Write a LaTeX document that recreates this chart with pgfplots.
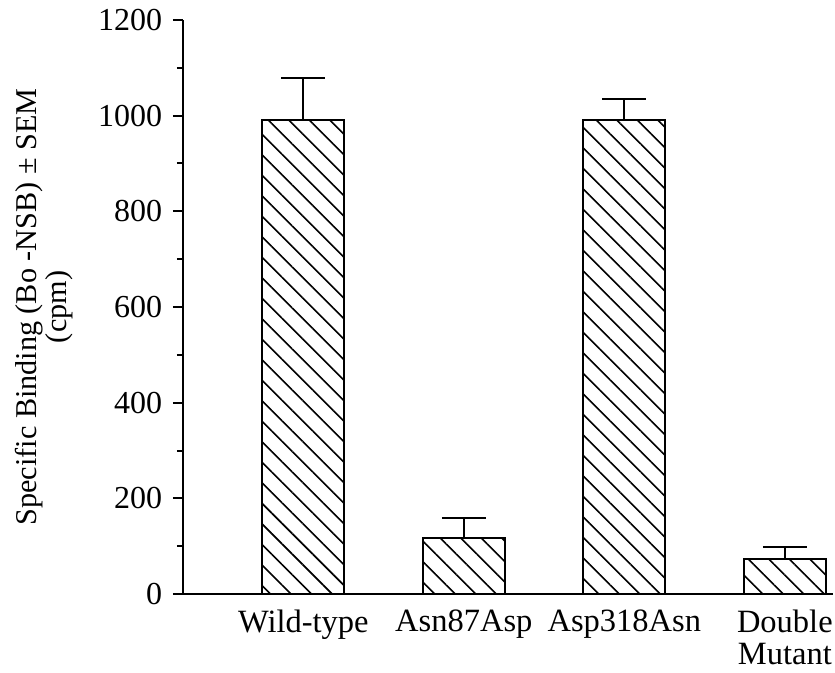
\documentclass[border=0pt]{standalone}
\usepackage{fontspec}
\setmainfont{Liberation Serif}
\usepackage{pgfplots}
\pgfplotsset{compat=1.18}
\usetikzlibrary{patterns.meta}
\begin{document}
\fontsize{32}{34}\selectfont
\begin{tikzpicture}
\useasboundingbox (-183pt,-78pt) rectangle (652pt,594pt);
\begin{axis}[
  scale only axis,
  width=650pt, height=574pt,
  xmin=-0.75, xmax=3.3,
  ymin=0, ymax=1200,
  axis x line=bottom, axis y line=left,
  axis line style={line width=2pt, -},
  xtick={0,1,2,3},
  xticklabels={Wild-type,Asn87Asp,Asp318Asn,Double\\Mutant},
  xticklabel style={align=center, font=\fontsize{32.5}{32}\selectfont, yshift=5pt},
  x tick style={draw=none},
  ytick={0,200,...,1200},
  minor y tick num=1,
  tick align=outside,
  major tick length=10pt, minor tick length=6pt,
  y tick style={line width=2pt, black},
  yticklabel style={font=\fontsize{32}{33}\selectfont},
  /pgf/number format/assume math mode=true,
  /pgf/number format/1000 sep={},
  ylabel={Specific Binding (Bo -NSB) ± SEM\\(cpm)},
  ylabel style={align=center, font=\fontsize{30.2}{30}\selectfont, yshift=4pt},
  clip=false,
]
\addplot[ybar, bar width=82pt, draw=black, line width=2pt,
  pattern={Lines[angle=-45, distance=14.5pt, line width=1.6pt]},
  error bars/.cd, y dir=plus, y explicit,
  error bar style={line width=2pt, black},
  error mark options={rotate=90, mark size=22pt, line width=2pt, black}]
coordinates {
(0,990) +- (0,89)
(1,117) +- (0,42)
(2,990) +- (0,45)
(3,73) +- (0,25)
};
\end{axis}
\end{tikzpicture}
\end{document}
